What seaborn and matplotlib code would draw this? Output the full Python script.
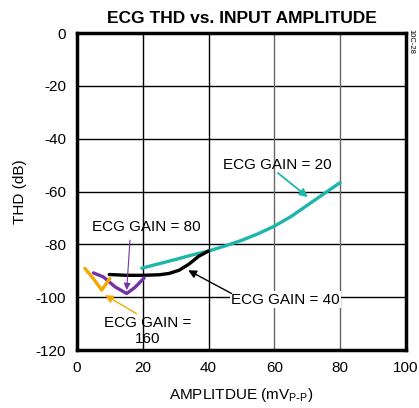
import pandas as pd
import seaborn as sns
import matplotlib.pyplot as plt

# Datos
amp_g20 = [19.7, 25, 30, 35, 40, 45, 50, 55, 60, 65, 70, 75, 80]
thd_g20 = [-89.0, -87.3, -85.7, -84.0, -82.5, -80.6, -78.5, -76.0, -73.1, -69.5, -65.2, -60.9, -56.6]

amp_g40 = [9.8, 15, 20, 25, 28, 31, 34, 37, 40]
thd_g40 = [-91.4, -91.7, -91.7, -91.5, -91.0, -89.8, -87.5, -84.5, -82.5]

amp_g80 = [5.0, 8.0, 11.6, 15.1, 17.6, 20.4]
thd_g80 = [-90.8, -92.3, -96.1, -98.6, -96.3, -92.7]

amp_g160 = [2.4, 5.0, 7.5, 10.0]
thd_g160 = [-89.1, -93.0, -97.3, -92.9]

x_ticks = [0, 20, 40, 60, 80, 100]
y_ticks = [0, -20, -40, -60, -80, -100, -120]

teal = '#1DB5AC'
purple = '#7533A8'
orange = '#F5A800'

sns.set_theme(style="white")
plt.rcParams['font.family'] = ['Liberation Sans', 'DejaVu Sans']
plt.rcParams['mathtext.default'] = 'regular'
plt.rcParams['axes.unicode_minus'] = False
plt.rcParams['text.color'] = 'black'
plt.rcParams['axes.labelcolor'] = 'black'

fig = plt.figure(figsize=(4.19, 4.08), dpi=100)
ax = fig.add_axes([0.1838, 0.142, 0.785, 0.777])

# Rejilla
for yv in y_ticks[1:-1]:
    ax.axhline(yv, color='black', linewidth=1.0, zorder=0)
for xv in x_ticks[1:-1]:
    ax.axvline(xv, color='black' if xv <= 40 else '#666666', linewidth=1.0, zorder=0)

series = [
    (amp_g20, thd_g20, teal),
    (amp_g40, thd_g40, 'black'),
    (amp_g80, thd_g80, purple),
    (amp_g160, thd_g160, orange),
]
for xs, ys, col in series:
    df = pd.DataFrame({'amp': xs, 'thd': ys})
    sns.lineplot(data=df, x='amp', y='thd', color=col, linewidth=2.4,
                 sort=False, ax=ax, zorder=3)

ax.set_xlim(0, 100)
ax.set_ylim(-120, 0)
ax.set_xticks(x_ticks)
ax.set_yticks(y_ticks)
ax.tick_params(axis='both', length=0, labelsize=11, pad=8, colors='black')
for s in ax.spines.values():
    s.set_linewidth(2.5)
    s.set_color('black')

ax.set_xlabel('AMPLITDUE (mV$_{P\\text{-}P}$)', fontsize=11, labelpad=8)
ax.set_ylabel('THD (dB)', fontsize=11, labelpad=6)
ax.set_title('ECG THD vs. INPUT AMPLITUDE', fontsize=12.5, fontweight='bold', pad=7)

# Textos
txt = dict(fontsize=11, ha='center', va='center', zorder=5)
ax.text(60.8, -50.0, 'ECG GAIN = 20', **txt)
ax.text(21.1, -73.3, 'ECG GAIN = 80', **txt)
ax.text(63.4, -101.0, 'ECG GAIN = 40',
        bbox=dict(boxstyle='square,pad=0.1', fc='white', ec='none'), **txt)
ax.text(21.5, -112.8, 'ECG GAIN =\n160', linespacing=1.25, **txt)

# Flechas
flechas = [
    ((61.1, -53.0), (70.2, -62.1), teal, 1.3, 12),
    ((16.1, -78.4), (15.1, -97.3), purple, 0.8, 10),
    ((47.0, -98.6), (33.8, -89.8), 'black', 1.0, 12),
    ((18.1, -106.2), (8.5, -99.2), orange, 1.0, 12),
]
for cola, punta, col, lw, ms in flechas:
    ax.annotate('', xy=punta, xytext=cola, zorder=6,
                arrowprops=dict(arrowstyle='-|>', color=col, lw=lw,
                                shrinkA=0, shrinkB=0, mutation_scale=ms))

fig.text(0.982, 0.93, '10C-28', rotation=270, fontsize=5.5, ha='center', va='top')

plt.savefig('out.png', dpi=100)
